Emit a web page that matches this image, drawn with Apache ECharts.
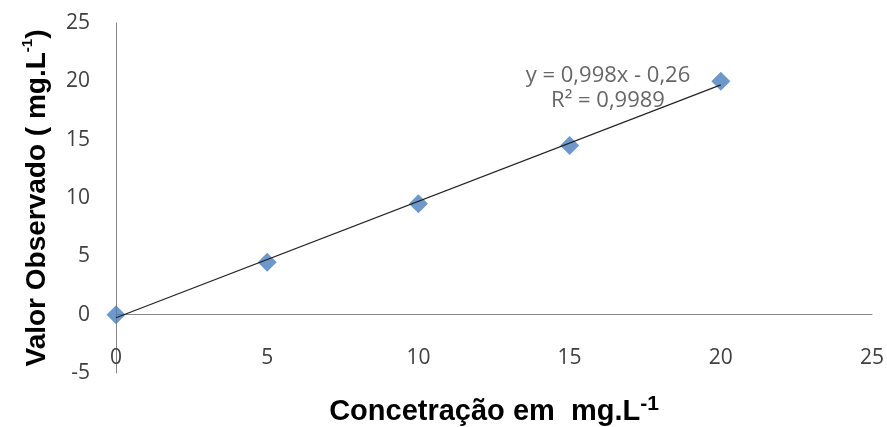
<!DOCTYPE html>
<html><head><meta charset="utf-8">
<script src="https://cdn.jsdelivr.net/npm/echarts@6/dist/echarts.min.js"></script>
<style>html,body{margin:0;padding:0;background:#fff}#c{width:887px;height:427px}</style>
</head><body><div id="c"></div>
<script>
// ---- data ----
const concentrations = [0, 5, 10, 15, 20];
const observed = [0, 4.5, 9.5, 14.5, 20];
const xTicks = [0, 5, 10, 15, 20, 25];
const yTicks = [-5, 0, 5, 10, 15, 20, 25];
const slope = 0.998;
const intercept = -0.26;
const fitRange = [0, 20];
const equationLines = ['y = 0,998x - 0,26', 'R² = 0,9989'];
const equationAnchor = [16.27, 19.4];
const xTitle = ['Concetração em  mg.L', '-1'];
const yTitle = ['Valor Observado ( mg.L', '-1', ')'];

const points = concentrations.map((x, i) => [x, observed[i]]);
const fitLine = fitRange.map(x => [x, slope * x + intercept]);

const chart = echarts.init(document.getElementById('c'), null, {renderer: 'canvas'});
const tickFont = {fontFamily: 'Open Sans', fontSize: 21, color: '#404040'};
chart.setOption({
  animation: false,
  backgroundColor: '#fff',
  grid: {left: 116, right: 15, top: 23, bottom: 54, containLabel: false, outerBoundsMode: 'none'},
  xAxis: {
    type: 'value', min: xTicks[0], max: xTicks[xTicks.length - 1], interval: xTicks[1] - xTicks[0],
    axisLine: {onZero: true, lineStyle: {color: '#878787', width: 1}},
    axisTick: {show: false}, splitLine: {show: false},
    axisLabel: Object.assign({margin: -25}, tickFont),
    name: '{a|' + xTitle[0] + '}{s|' + xTitle[1] + '}',
    nameLocation: 'middle', nameGap: 21,
    nameTextStyle: {
      rich: {
        a: {fontFamily: 'Liberation Sans', fontWeight: 'bold', fontSize: 29, color: '#000', lineHeight: 35},
        s: {fontFamily: 'Liberation Sans', fontWeight: 'bold', fontSize: 21, color: '#000', verticalAlign: 'top', lineHeight: 35, padding: [0, 0, 14, 0]}
      }
    }
  },
  yAxis: {
    type: 'value', min: yTicks[0], max: yTicks[yTicks.length - 1], interval: yTicks[1] - yTicks[0],
    axisLine: {show: true, onZero: true, lineStyle: {color: '#878787', width: 1}},
    axisTick: {show: false}, splitLine: {show: false},
    axisLabel: Object.assign({margin: 26}, tickFont),
    name: '{a|' + yTitle[0] + '}{s|' + yTitle[1] + '}{a|' + yTitle[2] + '}',
    nameLocation: 'middle', nameGap: 62, nameRotate: 90,
    nameTextStyle: {
      rich: {
        a: {fontFamily: 'Liberation Sans', fontWeight: 'bold', fontSize: 28, color: '#000', lineHeight: 34},
        s: {fontFamily: 'Liberation Sans', fontWeight: 'bold', fontSize: 15, color: '#000', verticalAlign: 'top', lineHeight: 34, padding: [0, 0, 16, 0]}
      }
    }
  },
  series: [
    {
      type: 'scatter', data: points, symbol: 'diamond', symbolSize: 19,
      itemStyle: {color: '#4A7EBB'}, z: 2
    },
    {
      type: 'line', data: fitLine, symbol: 'none', z: 3,
      lineStyle: {color: '#222', width: 1.2}
    },
    {
      type: 'scatter', data: [equationAnchor], symbol: 'circle', symbolSize: 1, z: 4,
      itemStyle: {color: 'rgba(0,0,0,0)'}, silent: true,
      label: {
        show: true, position: 'inside',
        formatter: equationLines.join('\n'),
        fontFamily: 'Open Sans', fontSize: 22, color: '#404040', lineHeight: 25, align: 'center'
      }
    }
  ]
});
</script></body></html>
